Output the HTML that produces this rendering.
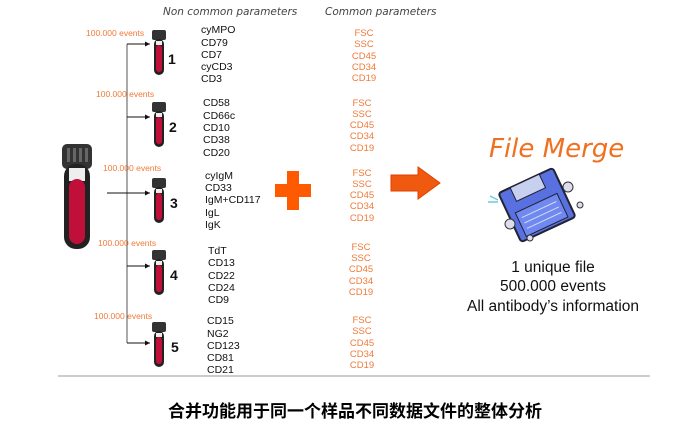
<!DOCTYPE html>
<html><head><meta charset="utf-8"><style>
body{margin:0;background:#fff;width:696px;height:434px;overflow:hidden}
svg text{font-family:"Liberation Sans",sans-serif}
.k{font-size:10.5px;fill:#111}
.o{font-size:9.5px;fill:#f07a3a}
.ev{font-size:8.5px;fill:#f07a3a}
.n{font-size:14px;font-weight:bold;fill:#111}
.h{font-family:"DejaVu Sans",sans-serif;font-style:italic;font-size:10.5px;fill:#444}
</style></head><body>
<svg width="696" height="434" viewBox="0 0 696 434" xmlns="http://www.w3.org/2000/svg">
<defs>
<marker id="a" markerWidth="6" markerHeight="6" refX="5" refY="3" orient="auto"><path d="M0,0.5 L5,3 L0,5.5z" fill="#111"/></marker>
<g id="t">
<rect x="0" y="0" width="14" height="10" rx="2" fill="#333"/>
<rect x="2" y="9" width="10" height="36" rx="5" fill="#222"/>
<rect x="4" y="11" width="6" height="4" fill="#eee"/>
<rect x="4" y="15" width="6" height="27" rx="3" fill="#c0103a"/>
</g>
</defs>
<text class="h" x="163" y="15">Non common parameters</text>
<text class="h" x="325" y="15">Common parameters</text>
<line x1="127" y1="44" x2="127" y2="343" stroke="#555" stroke-width="1"/>
<g stroke="#111" stroke-width="1" marker-end="url(#a)">
<line x1="127" y1="44" x2="150" y2="44"/>
<line x1="127" y1="117" x2="150" y2="117"/>
<line x1="107" y1="193" x2="150" y2="193"/>
<line x1="127" y1="266" x2="150" y2="266"/>
<line x1="127" y1="343" x2="150" y2="343"/>
</g>
<!-- big tube -->
<rect x="62" y="144" width="30" height="25" rx="5" fill="#333"/>
<rect x="67" y="148" width="3" height="14" fill="#666"/><rect x="73" y="148" width="3" height="14" fill="#666"/><rect x="79" y="148" width="3" height="14" fill="#666"/><rect x="85" y="148" width="3" height="14" fill="#666"/>
<rect x="64" y="164" width="26" height="85" rx="12" fill="#222"/>
<rect x="69" y="168" width="16" height="13" fill="#eee"/>
<rect x="69" y="179" width="16" height="65" rx="8" fill="#c0103a"/>
<use href="#t" x="152" y="30"/><use href="#t" x="152" y="102"/><use href="#t" x="152" y="178"/><use href="#t" x="152" y="250"/><use href="#t" x="152" y="322"/>
<text class="n" x="168" y="64">1</text><text class="n" x="169" y="132">2</text><text class="n" x="170" y="208">3</text><text class="n" x="170" y="280">4</text><text class="n" x="171" y="352">5</text>
<text class="ev" x="86" y="36">100.000 events</text>
<text class="ev" x="96" y="97">100.000 events</text>
<text class="ev" x="103" y="171">100.000 events</text>
<text class="ev" x="98" y="246">100.000 events</text>
<text class="ev" x="94" y="319">100.000 events</text>
<g class="k">
<text x="201" y="33">cyMPO</text><text x="201" y="46">CD79</text><text x="201" y="58">CD7</text><text x="201" y="70">cyCD3</text><text x="201" y="82">CD3</text>
<text x="203" y="106">CD58</text><text x="203" y="119">CD66c</text><text x="203" y="131">CD10</text><text x="203" y="143">CD38</text><text x="203" y="156">CD20</text>
<text x="205" y="179">cyIgM</text><text x="205" y="191">CD33</text><text x="205" y="203">IgM+CD117</text><text x="205" y="216">IgL</text><text x="205" y="228">IgK</text>
<text x="208" y="254">TdT</text><text x="208" y="266">CD13</text><text x="208" y="279">CD22</text><text x="208" y="291">CD24</text><text x="208" y="303">CD9</text>
<text x="207" y="324">CD15</text><text x="207" y="337">NG2</text><text x="207" y="349">CD123</text><text x="207" y="361">CD81</text><text x="207" y="373">CD21</text>
</g>
<g class="o" text-anchor="middle">
<text x="364" y="36">FSC</text><text x="364" y="47">SSC</text><text x="364" y="59">CD45</text><text x="364" y="70">CD34</text><text x="364" y="81">CD19</text>
<text x="362" y="106">FSC</text><text x="362" y="117">SSC</text><text x="362" y="128">CD45</text><text x="362" y="139">CD34</text><text x="362" y="151">CD19</text>
<text x="362" y="176">FSC</text><text x="362" y="187">SSC</text><text x="362" y="198">CD45</text><text x="362" y="209">CD34</text><text x="362" y="221">CD19</text>
<text x="361" y="250">FSC</text><text x="361" y="261">SSC</text><text x="361" y="272">CD45</text><text x="361" y="284">CD34</text><text x="361" y="295">CD19</text>
<text x="362" y="323">FSC</text><text x="362" y="334">SSC</text><text x="362" y="346">CD45</text><text x="362" y="357">CD34</text><text x="362" y="368">CD19</text>
</g>
<path d="M287,171 h12 v13 h12 v13 h-12 v13 h-12 v-13 h-12 v-13 h12z" fill="#ff5a00"/>
<path d="M391,175 h27 v-8 l22,16 l-22,16 v-8 h-27z" fill="#f05a10" stroke="#e04000"/>
<text x="489" y="157" style="font-family:'DejaVu Sans',sans-serif;font-style:italic;font-size:26px;fill:#f07020">File Merge</text>
<!-- floppy -->
<g transform="rotate(-25 537 205)">
<rect x="507" y="178" width="60" height="54" rx="3" fill="#5870e0" stroke="#223" stroke-width="2"/>
<rect x="520" y="178" width="32" height="15" fill="#c8d0f0" stroke="#223"/>
<rect x="514" y="203" width="46" height="26" fill="#7088f0" stroke="#223"/>
<line x1="518" y1="210" x2="556" y2="210" stroke="#cde"/><line x1="518" y1="216" x2="556" y2="216" stroke="#cde"/><line x1="518" y1="222" x2="556" y2="222" stroke="#cde"/>
</g>
<circle cx="568" cy="187" r="5" fill="#dde" stroke="#333"/><circle cx="510" cy="224" r="5" fill="#dde" stroke="#333"/><circle cx="530" cy="238" r="3" fill="#dde" stroke="#333"/><circle cx="580" cy="205" r="3" fill="#dde" stroke="#333"/>
<path d="M490,196 l8,4 M488,202 l10,0" stroke="#6cd" stroke-width="1.5"/>
<g text-anchor="middle" style="font-size:15.5px" fill="#111">
<text x="553" y="272">1 unique file</text>
<text x="553" y="291">500.000 events</text>
<text x="553" y="311">All antibody’s information</text>
</g>
<line x1="58" y1="376" x2="650" y2="376" stroke="#bbb" stroke-width="1.5"/>
<text x="355" y="417" text-anchor="middle" style="font-family:'Liberation Sans','Noto Sans CJK SC',sans-serif;font-size:17px;font-weight:bold" fill="#000">合并功能用于同一个样品不同数据文件的整体分析</text>
</svg>
</body></html>
